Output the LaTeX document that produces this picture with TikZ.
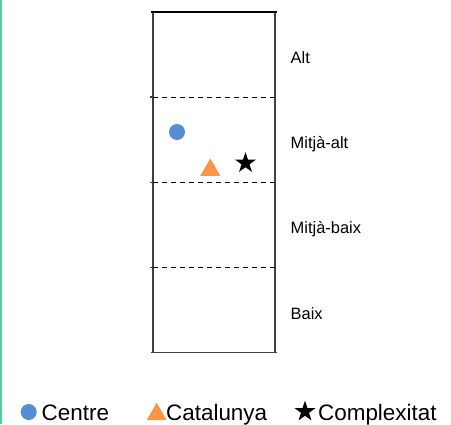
\documentclass[tikz,border=0pt]{standalone}
\usepackage{fontspec}
\setmainfont{Liberation Sans}
\usetikzlibrary{shapes.geometric}
\definecolor{lvBlue}{RGB}{85,142,213}
\definecolor{lvOrange}{RGB}{247,150,70}
\definecolor{lvGray}{RGB}{64,64,64}
\definecolor{lvGreen}{RGB}{80,210,150}
\tikzset{
    level/.style={font=\fontsize{16.5}{18}\selectfont, anchor=base west, inner sep=0pt},
    legend/.style={font=\fontsize{22.5}{26}\selectfont, anchor=base west, inner sep=0pt},
    divider/.style={dash pattern=on 5bp off 4bp, line width=0.9bp, black},
    frame/.style={line width=1.3bp, color=lvGray},
    centre/.style={circle, fill=lvBlue, minimum size=16bp, inner sep=0pt},
    catalunya/.style={regular polygon, regular polygon sides=3, fill=lvOrange,
                      minimum size=23bp, inner sep=0pt},
    complexitat/.style={star, star points=5, star point ratio=2.6, fill=black,
                        minimum size=22bp, inner sep=0pt}
}

\begin{document}
\begin{tikzpicture}[x=1bp, y=-1bp]
  \useasboundingbox (0,0) rectangle (451,424);
  \draw[lvGreen, line width=2bp] (1,0) -- (1,424);

  % scale box
  \draw[frame] (153,12) -- (153,352.5);
  \draw[frame] (275,12) -- (275,352.5);
  \draw[frame, black] (151,12) -- (277,12);
  \draw[frame] (151,352.5) -- (277,352.5);
  \foreach \y in {97,182.3,267.7} {
    \draw[divider] (153,\y) -- (275,\y);
    \draw[frame] (150,\y) -- (153,\y);
  }

  % level labels
  \node[level] (alt) at (290.5,63.3) {Alt};
  \node[level] (mitjaalt) at (290.5,148.3) {Mitjà-alt};
  \node[level] (mitjabaix) at (290.5,233.6) {Mitjà-baix};
  \node[level] (baix) at (290.5,319) {Baix};

  % markers
  \node[centre] (centre) at (177,132) {};
  \node[catalunya] (catalunya) at (210.3,170) {};
  \node[complexitat] (complexitat) at (245.5,163) {};

  % legend
  \node[centre] (keycentre) at (28.7,412) {};
  \node[legend] (txtcentre) at (41.5,420) {Centre};
  \node[catalunya] (keycatalunya) at (156.7,414.3) {};
  \node[legend] (txtcatalunya) at (166,420) {Catalunya};
  \node[complexitat] (keycomplexitat) at (305,411.5) {};
  \node[legend] (txtcomplexitat) at (318,420) {Complexitat};
\end{tikzpicture}
\end{document}
